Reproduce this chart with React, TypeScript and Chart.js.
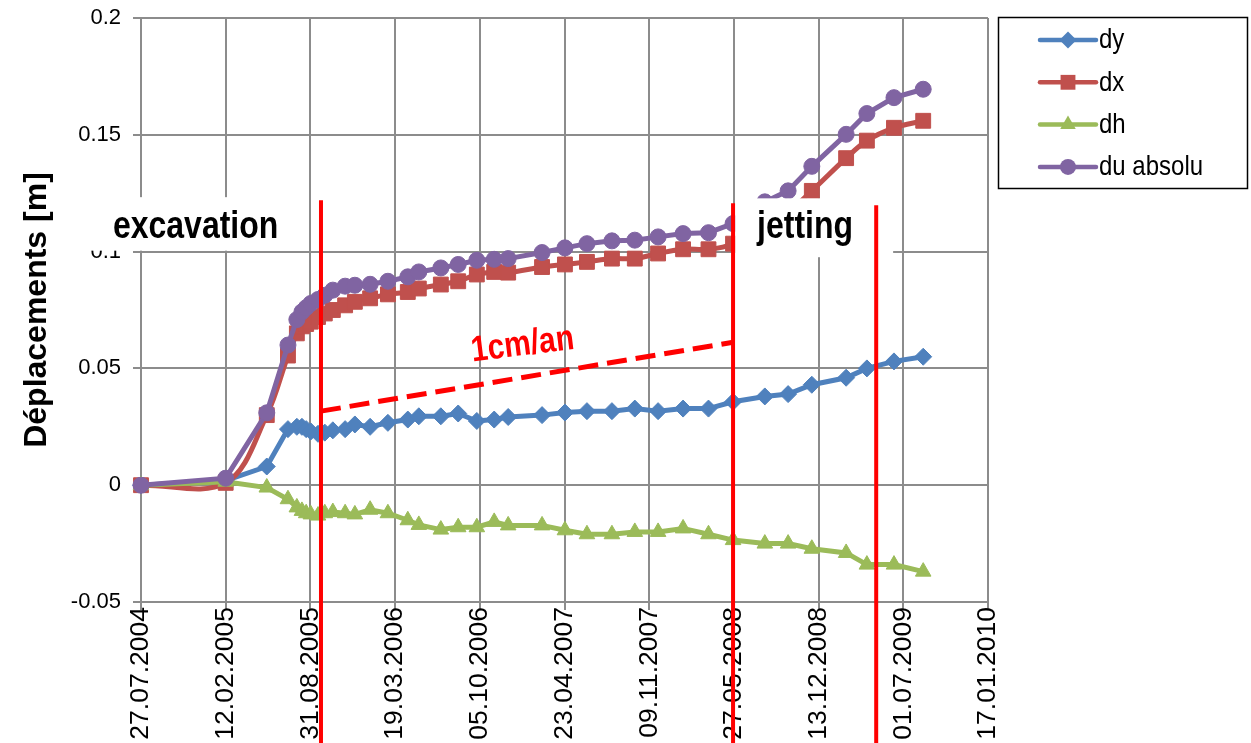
import React, { useEffect, useRef } from 'react';
import { Chart, registerables } from 'chart.js';

Chart.register(...registerables);

// Survey dates (dd.mm.yyyy) and the displacement components measured on each date [m]
const measureDates = [
  '27.07.2004', '12.02.2005', '20.05.2005', '09.07.2005', '30.07.2005', '11.08.2005',
  '21.08.2005', '01.09.2005', '18.09.2005', '04.10.2005', '23.10.2005', '21.11.2005',
  '14.12.2005', '19.01.2006', '02.03.2006', '18.04.2006', '14.05.2006', '05.07.2006',
  '15.08.2006', '28.09.2006', '08.11.2006', '11.12.2006', '01.03.2007', '24.04.2007',
  '15.06.2007', '13.08.2007', '06.10.2007', '30.11.2007', '28.01.2008', '28.03.2008',
  '25.05.2008', '08.08.2008', '02.10.2008', '27.11.2008', '16.02.2009', '06.04.2009',
  '09.06.2009', '17.08.2009',
];

const dy = [
  0, 0.002, 0.008, 0.024, 0.025, 0.025, 0.024, 0.023, 0.022, 0.0225, 0.0235, 0.024,
  0.026, 0.025, 0.0267, 0.0281, 0.0295, 0.0295, 0.0307, 0.0275, 0.0281, 0.0292, 0.03, 0.0311,
  0.0317, 0.0317, 0.0328, 0.0317, 0.0328, 0.0328, 0.0357, 0.038, 0.039, 0.043, 0.046, 0.05,
  0.053, 0.055,
];

const dx = [
  0, 0.001, 0.03, 0.0555, 0.065, 0.068, 0.069, 0.07, 0.072, 0.0735, 0.075, 0.077,
  0.0785, 0.08, 0.0817, 0.0827, 0.0842, 0.0859, 0.0873, 0.0902, 0.0913, 0.091, 0.0934, 0.0945,
  0.0956, 0.097, 0.097, 0.0992, 0.101, 0.101, 0.1034, 0.112, 0.117, 0.126, 0.14, 0.1475,
  0.153, 0.156,
];

const dh = [
  0, 0.0015, -0.001, -0.006, -0.0095, -0.011, -0.012, -0.0125, -0.013, -0.012, -0.0115, -0.012,
  -0.0125, -0.0105, -0.012, -0.015, -0.017, -0.019, -0.018, -0.018, -0.0157, -0.0172, -0.0172, -0.0193,
  -0.021, -0.021, -0.02, -0.02, -0.0185, -0.021, -0.0235, -0.025, -0.025, -0.0272, -0.029, -0.034,
  -0.034, -0.037,
];

const du = [
  0, 0.003, 0.031, 0.06, 0.0709, 0.0742, 0.076, 0.0778, 0.0795, 0.0813, 0.0835, 0.0852,
  0.0856, 0.086, 0.0873, 0.0892, 0.0913, 0.093, 0.0945, 0.0963, 0.0967, 0.097, 0.0996, 0.1016,
  0.1034, 0.1046, 0.1049, 0.1063, 0.1077, 0.1081, 0.112, 0.1213, 0.126, 0.1365, 0.1502, 0.1591,
  0.1659, 0.1695,
];

const xTickLabels = [
  '27.07.2004', '12.02.2005', '31.08.2005', '19.03.2006', '05.10.2006', '23.04.2007',
  '09.11.2007', '27.05.2008', '13.12.2008', '01.07.2009', '17.01.2010',
];
const yTickValues = [-0.05, 0, 0.05, 0.1, 0.15, 0.2];
const yTickLabels = ['-0.05', '0', '0.05', '0.1', '0.15', '0.2'];

// Works phases: start/end markers and their captions
const phaseLineDates = ['25.09.2005', '25.05.2008', '28.04.2009'];
const phaseLineTops = [0.122, 0.1207, 0.1198];
const phaseBoxes = [
  { from: '13.03.2004', to: '25.08.2005', top: 0.1233, bottom: 0.1004 },
  { from: '30.05.2008', to: '07.06.2009', top: 0.1228, bottom: 0.0976 },
];
const phaseCaptions = [
  { text: 'excavation', date: '03.12.2004', value: 0.1105 },
  { text: 'jetting', date: '11.11.2008', value: 0.1105 },
];

// Creep trend after excavation
const trendFrom = { date: '25.09.2005', value: 0.0317 };
const trendTo = { date: '25.05.2008', value: 0.0612 };
const trendCaption = { text: '1cm/an', date: '14.01.2007', value: 0.0599 };

const seriesNames = ['dy', 'dx', 'dh', 'du absolu'];
const seriesColors = ['#4F81BD', '#C0504D', '#9BBB59', '#8064A2'];
const seriesMarkers = ['rectRot', 'rect', 'triangle', 'circle'];
const markerRadii = [8.5, 10.5, 9, 8];

const FONT = '"Liberation Sans", Arial, sans-serif';
const GRID = '#8c8c8c';

const ORIGIN = Date.UTC(2004, 6, 27);
function toDay(s: string): number {
  const [d, m, y] = s.split('.').map(Number);
  return Math.round((Date.UTC(y, m - 1, d) - ORIGIN) / 86400000);
}

function drawMarker(ctx: CanvasRenderingContext2D, style: string, x: number, y: number, r: number) {
  ctx.beginPath();
  if (style === 'rectRot') {
    ctx.moveTo(x - r, y);
    ctx.lineTo(x, y - r);
    ctx.lineTo(x + r, y);
    ctx.lineTo(x, y + r);
    ctx.closePath();
  } else if (style === 'rect') {
    const s = Math.SQRT1_2 * r;
    ctx.rect(x - s, y - s, 2 * s, 2 * s);
  } else if (style === 'triangle') {
    const h = r * 1.5;
    const w = r * Math.sqrt(3) / 2;
    ctx.moveTo(x, y - r);
    ctx.lineTo(x + w, y - r + h);
    ctx.lineTo(x - w, y - r + h);
    ctx.closePath();
  } else {
    ctx.arc(x, y, r, 0, Math.PI * 2);
  }
  ctx.fill();
}

// Text drawn a little taller than wide, like the captions of the original workbook
function tallText(ctx: CanvasRenderingContext2D, text: string, x: number, y: number, stretch: number) {
  ctx.save();
  ctx.translate(x, y);
  ctx.scale(1, stretch);
  ctx.fillText(text, 0, 0);
  ctx.restore();
}

const overlayPlugin = {
  id: 'phaseOverlay',
  afterDatasetsDraw(chart: any) {
    const { ctx, scales } = chart;
    const xs = scales.x;
    const ys = scales.y;
    const px = (d: string) => xs.getPixelForValue(toDay(d));
    const py = (v: number) => ys.getPixelForValue(v);
    ctx.save();

    // caption boxes
    ctx.fillStyle = '#ffffff';
    phaseBoxes.forEach((b) => {
      const l = px(b.from);
      const r = px(b.to);
      const t = py(b.top);
      const btm = py(b.bottom);
      ctx.fillRect(l, t, r - l, btm - t);
    });
    ctx.fillStyle = '#000000';
    ctx.font = `bold 32px ${FONT}`;
    ctx.textAlign = 'center';
    ctx.textBaseline = 'middle';
    phaseCaptions.forEach((c) => tallText(ctx, c.text, px(c.date), py(c.value), 1.22));

    // phase limits
    ctx.strokeStyle = '#ff0000';
    ctx.lineWidth = 4;
    phaseLineDates.forEach((d, i) => {
      const x = px(d);
      ctx.beginPath();
      ctx.moveTo(x, py(phaseLineTops[i]));
      ctx.lineTo(x, chart.height);
      ctx.stroke();
    });

    // trend line
    ctx.lineWidth = 5;
    ctx.setLineDash([20, 9]);
    ctx.beginPath();
    ctx.moveTo(px(trendFrom.date), py(trendFrom.value));
    ctx.lineTo(px(trendTo.date), py(trendTo.value));
    ctx.stroke();
    ctx.setLineDash([]);

    ctx.translate(px(trendCaption.date), py(trendCaption.value));
    ctx.rotate((-7 * Math.PI) / 180);
    ctx.scale(1, 1.2);
    ctx.fillStyle = '#ff0000';
    ctx.font = `bold 30px ${FONT}`;
    ctx.fillText(trendCaption.text, 0, 0);
    ctx.restore();
  },
  afterDraw(chart: any) {
    const { ctx } = chart;
    const boxL = chart.chartArea.right + 10;
    const boxT = chart.chartArea.top - 1;
    ctx.save();
    ctx.strokeStyle = '#000000';
    ctx.lineWidth = 1.5;
    ctx.strokeRect(boxL + 0.5, boxT + 0.5, 249, 171);
    ctx.font = `24px ${FONT}`;
    ctx.textAlign = 'left';
    ctx.textBaseline = 'middle';
    seriesNames.forEach((name, i) => {
      const y = boxT + 23 + i * 42.3;
      ctx.strokeStyle = seriesColors[i];
      ctx.fillStyle = seriesColors[i];
      ctx.lineWidth = 4.5;
      ctx.lineCap = 'round';
      ctx.beginPath();
      ctx.moveTo(boxL + 42, y);
      ctx.lineTo(boxL + 98, y);
      ctx.stroke();
      drawMarker(ctx, seriesMarkers[i], boxL + 70, y, markerRadii[i]);
      ctx.fillStyle = '#000000';
      tallText(ctx, name, boxL + 101, y + 1, 1.12);
    });
    ctx.restore();
  },
};

export default function App() {
  const canvasRef = useRef<HTMLCanvasElement | null>(null);

  useEffect(() => {
    const canvas = canvasRef.current;
    if (!canvas) return;
    const series = [dy, dx, dh, du];
    const datasets = series.map((values, i) => ({
      label: seriesNames[i],
      data: values.map((v, k) => ({ x: toDay(measureDates[k]), y: v })),
      borderColor: seriesColors[i],
      backgroundColor: seriesColors[i],
      pointBackgroundColor: seriesColors[i],
      pointBorderColor: seriesColors[i],
      pointBorderWidth: 1,
      borderWidth: 5,
      pointStyle: seriesMarkers[i],
      pointRadius: markerRadii[i],
      tension: i === 1 ? 0.35 : 0,
      order: 4 - i,
      clip: 12,
    }));

    const chart = new Chart(canvas, {
      type: 'line',
      data: { datasets },
      plugins: [overlayPlugin],
      options: {
        responsive: false,
        animation: false,
        devicePixelRatio: 1,
        layout: { padding: { top: 18, right: 263, left: 0, bottom: 0 } },
        plugins: { legend: { display: false }, tooltip: { enabled: false } },
        scales: {
          x: {
            type: 'linear',
            min: 0,
            max: 2000,
            afterBuildTicks: (axis: any) => {
              axis.ticks = xTickLabels.map((l) => ({ value: toDay(l) }));
            },
            afterFit: (axis: any) => {
              axis.height = 141;
              axis.paddingLeft = 0;
              axis.paddingRight = 0;
            },
            ticks: {
              autoSkip: false,
              minRotation: 90,
              maxRotation: 90,
              padding: -3,
              color: '#000000',
              font: { family: FONT, size: 26.5 },
              callback: (_v: any, i: number) => xTickLabels[i],
            },
            grid: { color: GRID, lineWidth: 2, tickLength: 8, drawTicks: true, tickColor: GRID },
            border: { color: GRID, width: 2 },
          },
          y: {
            type: 'linear',
            min: -0.05,
            max: 0.2,
            afterBuildTicks: (axis: any) => {
              axis.ticks = yTickValues.map((v) => ({ value: v }));
            },
            afterFit: (axis: any) => {
              axis.width = 141;
              axis.paddingTop = 0;
              axis.paddingBottom = 0;
            },
            ticks: {
              padding: 12,
              color: '#000000',
              font: { family: FONT, size: 22 },
              callback: (_v: any, i: number) => yTickLabels[i],
            },
            grid: { color: GRID, lineWidth: 2, tickLength: 8, drawTicks: true, tickColor: GRID },
            border: { color: GRID, width: 2 },
            title: {
              display: true,
              text: 'Déplacements [m]',
              color: '#000000',
              font: { family: FONT, size: 32, weight: 'bold' },
              padding: { top: 18, bottom: 0 },
            },
          },
        },
      },
    } as any);

    return () => chart.destroy();
  }, []);

  return (
    <div style={{ position: 'fixed', left: 0, top: 0, width: 1251, height: 743, background: '#ffffff' }}>
      <canvas ref={canvasRef} width={1251} height={743} style={{ display: 'block' }} />
    </div>
  );
}
